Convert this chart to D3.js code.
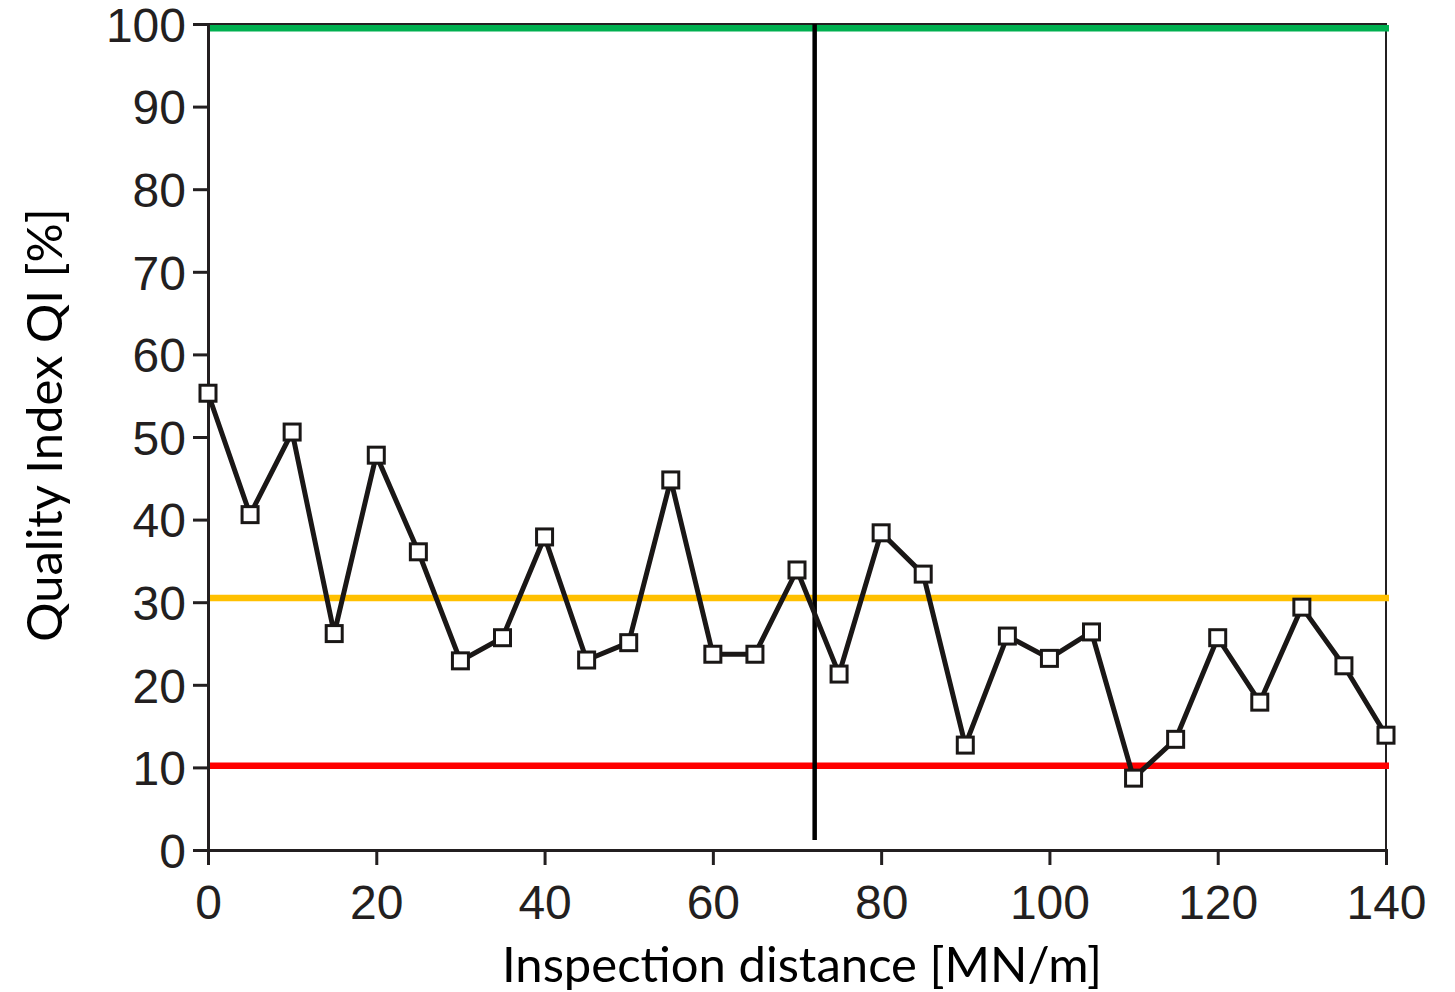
<!DOCTYPE html>
<html>
<head>
<meta charset="utf-8">
<script src="https://cdn.jsdelivr.net/npm/d3@7"></script>
<style>
  body { margin: 0; background: #fff; }
  svg { display: block; }
</style>
</head>
<body>
<svg id="chart" width="1455" height="992"></svg>
<script>
// distances along the line
var distances = [0, 5, 10, 15, 20, 25, 30, 35, 40, 45, 50, 55, 60, 65, 70,
                 75, 80, 85, 90, 95, 100, 105, 110, 115, 120, 125, 130, 135, 140]
// quality index per distance
var qualityIndex = [55.3, 40.6, 50.6, 26.2, 47.8, 36.1, 22.9, 25.7, 37.9, 23.0, 25.1, 44.8, 23.7, 23.7, 33.9,
                    21.3, 38.4, 33.4, 12.7, 25.9, 23.2, 26.4, 8.7, 13.4, 25.7, 17.9, 29.4, 22.3, 13.9]
var xTicks = [0, 20, 40, 60, 80, 100, 120, 140]
var yTicks = [0, 10, 20, 30, 40, 50, 60, 70, 80, 90, 100]
var thresholds = [
    {value: 99.5, color: "#00b050"},
    {value: 30.5, color: "#ffc000"},
    {value: 10.2, color: "#ff0000"}
]
var markerDistance = 72.1

var svg = d3.select("#chart")
var plotLeft = 208, plotRight = 1386, plotTop = 24, plotBottom = 850

var x = d3.scaleLinear().domain([0, 140]).range([plotLeft, plotRight])
var y = d3.scaleLinear().domain([0, 100]).range([plotBottom, plotTop])

// frame
svg.append("rect")
    .attr("x", plotLeft).attr("y", plotTop)
    .attr("width", plotRight - plotLeft).attr("height", plotBottom - plotTop)
    .attr("fill", "none").attr("stroke", "#231f20").attr("stroke-width", 2)

var xAxis = svg.append("g")
    .attr("transform", "translate(0," + plotBottom + ")")
    .call(d3.axisBottom(x).tickValues(xTicks).tickSize(15).tickPadding(19).tickFormat(d3.format("d")))
var yAxis = svg.append("g")
    .attr("transform", "translate(" + plotLeft + ",0)")
    .call(d3.axisLeft(y).tickValues(yTicks).tickSize(15).tickPadding(7).tickFormat(d3.format("d")))

var axes = [xAxis, yAxis]
for (var i = 0; i < axes.length; i++)
{
    var g = axes[i]
    g.select(".domain").attr("stroke", "#231f20").attr("stroke-width", 3)
    g.selectAll(".tick line").attr("stroke", "#231f20").attr("stroke-width", 3)
    g.selectAll(".tick text")
        .attr("fill", "#231f20")
        .style("font-family", "'Liberation Sans', Arial, sans-serif")
        .style("font-size", "48px")
}
yAxis.selectAll(".tick text").attr("dy", "0.36em")
xAxis.selectAll(".tick text").attr("dy", "0.72em")

// threshold lines
svg.selectAll(".threshold")
    .data(thresholds)
    .enter()
    .append("line")
        .attr("class", "threshold")
        .attr("x1", plotLeft + 2).attr("x2", plotRight + 3)
        .attr("y1", function(d){ return y(d.value) })
        .attr("y2", function(d){ return y(d.value) })
        .attr("stroke", function(d){ return d.color })
        .attr("stroke-width", 6.5)

// vertical marker
svg.append("line")
    .attr("x1", x(markerDistance)).attr("x2", x(markerDistance))
    .attr("y1", plotTop).attr("y2", plotBottom - 10)
    .attr("stroke", "#000").attr("stroke-width", 4.5)

var points = distances.map(function(d, i){ return [d, qualityIndex[i]] })

svg.append("path")
    .datum(points)
    .attr("fill", "none")
    .attr("stroke", "#1a1716")
    .attr("stroke-width", 5)
    .attr("stroke-linejoin", "miter")
    .attr("d", d3.line().x(function(d){ return x(d[0]) }).y(function(d){ return y(d[1]) }))

var size = 16
svg.selectAll(".pt")
    .data(points)
    .enter()
    .append("rect")
        .attr("class", "pt")
        .attr("x", function(d){ return x(d[0]) - size / 2 })
        .attr("y", function(d){ return y(d[1]) - size / 2 })
        .attr("width", size).attr("height", size)
        .attr("fill", "#fff").attr("stroke", "#1a1716").attr("stroke-width", 3)

// axis titles
svg.append("text")
    .attr("x", 802).attr("y", 982)
    .attr("text-anchor", "middle")
    .style("font-family", "Lato, 'Open Sans', sans-serif")
    .style("font-size", "49px")
    .attr("fill", "#000")
    .text("Inspection distance [MN/m]")

svg.append("text")
    .attr("transform", "translate(62,425) rotate(-90)")
    .attr("text-anchor", "middle")
    .style("font-family", "Lato, 'Open Sans', sans-serif")
    .style("font-size", "49px")
    .attr("fill", "#000")
    .text("Quality Index QI [%]")
</script>
</body>
</html>
